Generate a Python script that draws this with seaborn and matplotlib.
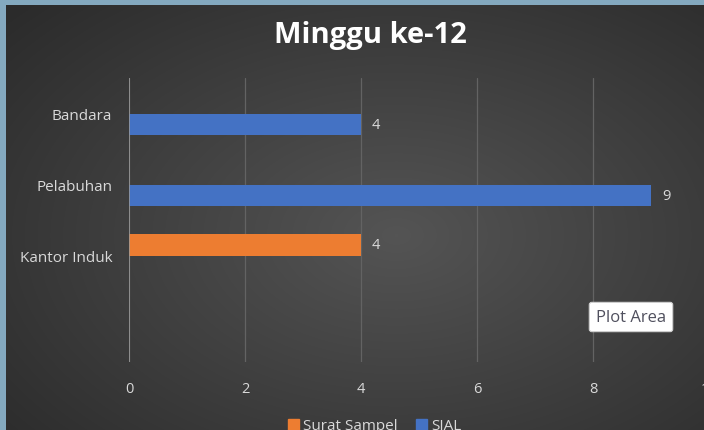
import numpy as np
import pandas as pd
import matplotlib
matplotlib.use("Agg")
import matplotlib.pyplot as plt
import seaborn as sns
from matplotlib.patches import Rectangle

# ---- data ----
categories = ["Bandara", "Pelabuhan", "Kantor Induk", ""]
series = ["Surat Sampel", "SIAL"]
surat_sampel = [np.nan, np.nan, 4, np.nan]
sial = [4, 9, np.nan, np.nan]
x_ticks = [0, 2, 4, 6, 8, 10]
title = "Minggu ke-12"

sns.set_theme(style="dark")
plt.rcParams['font.family'] = ['Open Sans', 'DejaVu Sans']

rows = []
for c, a, b in zip(categories, surat_sampel, sial):
    rows.append({"Lokasi": c, "Seri": series[0], "Jumlah": a})
    rows.append({"Lokasi": c, "Seri": series[1], "Jumlah": b})
df = pd.DataFrame(rows)

W, H = 704, 431
fig = plt.figure(figsize=(W / 100, H / 100), dpi=100, facecolor="#84a9bf")

# background chart area with radial gradient
bg = fig.add_axes([6 / W, 0, (W - 6) / W, (H - 6) / H])
yy, xx = np.mgrid[0:425, 0:698]
cx, cy = 390, 230
d = np.sqrt(((xx - cx) / 520.0) ** 2 + ((yy - cy) / 330.0) ** 2)
d = np.clip(d, 0, 1)
val = 0.33 - 0.16 * d
img = np.dstack([val, val, val])
bg.imshow(img, aspect="auto", interpolation="bilinear")
bg.set_axis_off()

ax = fig.add_axes([129 / W, (H - 363) / H, (709 - 129) / W, (363 - 79) / H])
ax.set_facecolor("none")

sns.barplot(data=df, y="Lokasi", x="Jumlah", hue="Seri", order=categories,
            hue_order=series, palette=["#ed7d31", "#4472c4"], width=0.61,
            orient="h", ax=ax, saturation=1, legend=False, err_kws={"linewidth": 0},
            edgecolor="none")

for cont in ax.containers:
    ax.bar_label(cont, fmt="%g", padding=8, color="#d9d9d9", fontsize=10.5)

ax.set_xlim(0, 10)
ax.set_ylim(3.5, -0.5)
ax.set_xticks(x_ticks)
ax.set_xticklabels([str(t) for t in x_ticks])
ax.xaxis.grid(True, color="#636363", lw=0.9)
ax.yaxis.grid(False)
ax.axvline(0, color="#9a9a9a", lw=1.1, zorder=1.5)
for s in ax.spines.values():
    s.set_visible(False)
ax.tick_params(axis="both", length=0, colors="#d9d9d9", labelsize=10.5)
ax.tick_params(axis="y", labelsize=11, pad=12)
ax.tick_params(axis="x", pad=14)
ax.set_xlabel("")
ax.set_ylabel("")

fig.text(370 / W, 1 - 35 / H, title, ha="center", va="center", color="white",
         fontsize=21, fontweight="bold")

handles = [Rectangle((0, 0), 1, 1, color="#ed7d31"), Rectangle((0, 0), 1, 1, color="#4472c4")]
leg = fig.legend(handles, series, loc="center", bbox_to_anchor=(375 / W, 1 - 427 / H),
                 ncol=2, frameon=False, fontsize=11, handlelength=0.7, handleheight=0.7,
                 handletextpad=0.3, columnspacing=1.2, labelcolor="#d9d9d9")

fig.text(631 / W, 1 - 318 / H, "Plot Area", ha="center", va="center", color="#50505e",
         fontsize=12,
         bbox=dict(boxstyle="round,pad=0.4,rounding_size=0.15", fc="white", ec="#cfcfcf", lw=0.8))

fig.savefig("out.png", dpi=100, facecolor=fig.get_facecolor())
